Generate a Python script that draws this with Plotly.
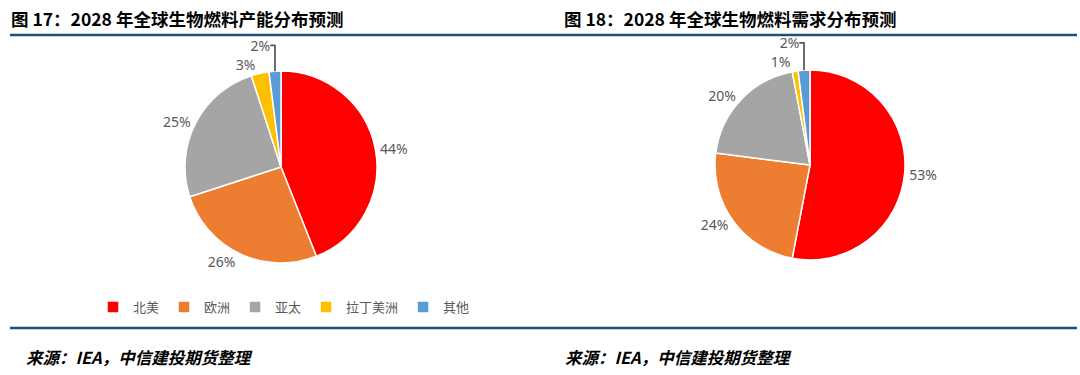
import plotly.graph_objects as go

regions = ["北美", "欧洲", "亚太", "拉丁美洲", "其他"]
capacity_share = [44, 26, 25, 3, 2]
demand_share = [53, 24, 20, 1, 2]
colors = ["#FF0000", "#ED7D31", "#A5A5A5", "#FFC000", "#5B9BD5"]

title_left = "图 17：2028 年全球生物燃料产能分布预测"
title_right = "图 18：2028 年全球生物燃料需求分布预测"
source_text = "来源：IEA，中信建投期货整理"

W, H = 1080, 375

def px_dom(cx, cy, r):
    return dict(x=[(cx - r) / W, (cx + r) / W],
                y=[(H - cy - r) / H, (H - cy + r) / H])

fig = go.Figure()
for vals, dom, lg in [(capacity_share, px_dom(281, 167, 96), "legend"),
                      (demand_share, px_dom(810, 165, 95), "legend2")]:
    fig.add_trace(go.Pie(
        labels=regions, values=vals, sort=False, direction="clockwise",
        rotation=0, domain=dom, legend=lg,
        marker=dict(colors=colors, line=dict(color="white", width=1.5)),
        texttemplate="%{value}%", textposition="outside",
        textfont=dict(family="Noto Sans", size=14, color="#595959"),
        hoverinfo="label+value", showlegend=True,
    ))

line_color = "#1F4E79"
shapes = [
    dict(type="line", xref="paper", yref="paper", x0=10 / W, x1=1077 / W,
         y0=(H - 35) / H, y1=(H - 35) / H, line=dict(color=line_color, width=2.5)),
    dict(type="line", xref="paper", yref="paper", x0=10 / W, x1=1077 / W,
         y0=(H - 328) / H, y1=(H - 328) / H, line=dict(color=line_color, width=2.5)),
]

annotations = []
for txt, x in [(title_left, 10), (title_right, 563)]:
    annotations.append(dict(text="<b>" + txt + "</b>", xref="paper", yref="paper",
                            x=x / W, y=(H - 19) / H, xanchor="left", yanchor="middle",
                            showarrow=False, borderpad=0,
                            font=dict(family="Noto Sans CJK SC", size=17.5, color="#000000")))
for x in [24, 563]:
    annotations.append(dict(text="<b><i>" + source_text + "</i></b>", xref="paper", yref="paper",
                            x=x / W, y=(H - 357) / H, xanchor="left", yanchor="middle",
                            showarrow=False,
                            font=dict(family="Noto Sans CJK SC", size=16.5, color="#000000")))

legend_common = dict(orientation="h", xanchor="center", yanchor="middle",
                     font=dict(family="Noto Sans CJK SC", size=13, color="#595959"),
                     bgcolor="rgba(0,0,0,0)", itemclick=False, itemdoubleclick=False)

fig.update_layout(
    width=W, height=H,
    margin=dict(l=0, r=0, t=0, b=0),
    paper_bgcolor="white", plot_bgcolor="white",
    shapes=shapes, annotations=annotations,
    legend=dict(x=284 / W, y=(H - 307) / H, **legend_common),
    legend2=dict(x=815 / W, y=(H - 307) / H, **legend_common),
)

fig.write_html("out.html", config={"displayModeBar": False},
               post_script="document.body.style.margin='0';document.body.style.overflow='hidden';")
